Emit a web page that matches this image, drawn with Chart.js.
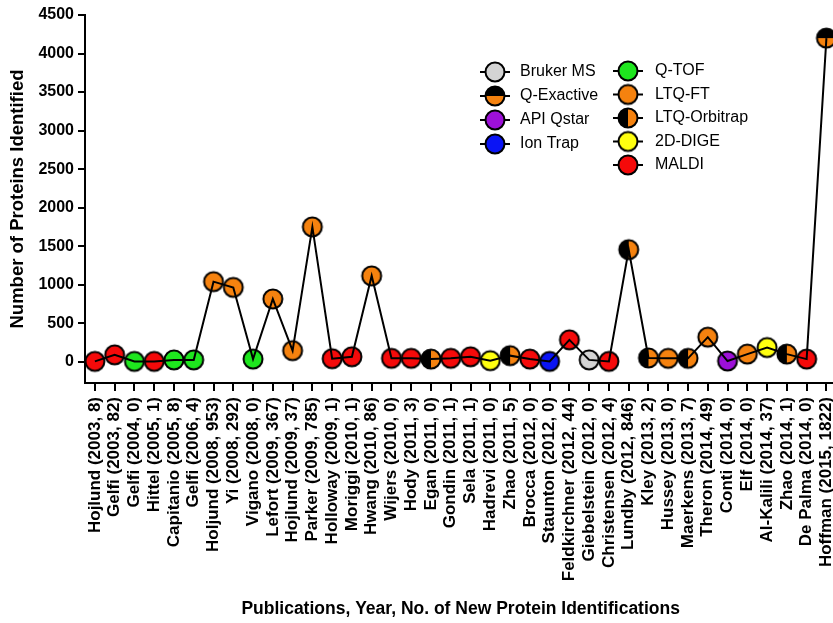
<!DOCTYPE html>
<html>
<head>
<meta charset="utf-8">
<script src="https://cdn.jsdelivr.net/npm/chart.js@4.4.1/dist/chart.umd.min.js"></script>
<style>
html, body { margin:0; padding:0; background:#fff; overflow:hidden; }
#wrap { width:833px; height:623px; overflow:hidden; }
#wrap canvas { display:block; }
</style>
</head>
<body>
<div id="wrap"><canvas id="chartProteins" width="853" height="623"></canvas></div>
<script>
// publications on the x axis
const publications = [
    'Hojlund (2003, 8)', 'Gelfi (2003, 82)', 'Gelfi (2004, 0)', 'Hittel (2005, 1)',
    'Capitanio (2005, 8)', 'Gelfi (2006, 4)', 'Holjund (2008, 953)', 'Yi (2008, 292)',
    'Vigano (2008, 0)', 'Lefort (2009, 367)', 'Hojlund (2009, 37)', 'Parker (2009, 785)',
    'Holloway (2009, 1)', 'Moriggi (2010, 1)', 'Hwang (2010, 86)', 'Wijers (2010, 0)',
    'Hody (2011, 3)', 'Egan (2011, 0)', 'Gondin (2011, 1)', 'Sela (2011, 1)',
    'Hadrevi (2011, 0)', 'Zhao (2011, 5)', 'Brocca (2012, 0)', 'Staunton (2012, 0)',
    'Feldkirchner (2012, 44)', 'Giebelstein (2012, 0)', 'Christensen (2012, 4)', 'Lundby (2012, 846)',
    'Kley (2013, 2)', 'Hussey (2013, 0)', 'Maerkens (2013, 7)', 'Theron (2014, 49)',
    'Conti (2014, 0)', 'Elf (2014, 0)', 'Al-Kalili (2014, 37)', 'Zhao (2014, 1)',
    'De Palma (2014, 0)', 'Hoffman (2015, 1822)'
];

// number of proteins identified
const proteinCounts = [
    5, 90, 5, 5, 25, 25, 1040, 965,
    35, 815, 145, 1750, 40, 65, 1115, 45,
    45, 35, 45, 65, 15, 80, 35, 5,
    285, 25, 5, 1455, 50, 45, 45, 320,
    10, 100, 185, 100, 35, 4200
];

// instrument used for each publication
const instruments = [
    'MALDI', 'MALDI', 'Q-TOF', 'MALDI', 'Q-TOF', 'Q-TOF', 'LTQ-FT', 'LTQ-FT',
    'Q-TOF', 'LTQ-FT', 'LTQ-FT', 'LTQ-FT', 'MALDI', 'MALDI', 'LTQ-FT', 'MALDI',
    'MALDI', 'LTQ-Orbitrap', 'MALDI', 'MALDI', '2D-DIGE', 'LTQ-Orbitrap', 'MALDI', 'Ion Trap',
    'MALDI', 'Bruker MS', 'MALDI', 'LTQ-Orbitrap', 'LTQ-Orbitrap', 'LTQ-FT', 'LTQ-Orbitrap', 'LTQ-FT',
    'API Qstar', 'LTQ-FT', '2D-DIGE', 'LTQ-Orbitrap', 'MALDI', 'Q-Exactive'
];

const yTicks = [0, 500, 1000, 1500, 2000, 2500, 3000, 3500, 4000, 4500];

const legendCol1 = ['Bruker MS', 'Q-Exactive', 'API Qstar', 'Ion Trap'];
const legendCol2 = ['Q-TOF', 'LTQ-FT', 'LTQ-Orbitrap', '2D-DIGE', 'MALDI'];

const ORANGE = '#f5820f';
const instrumentColors = {
    'Bruker MS': '#d4d4d4',
    'API Qstar': '#9d10d8',
    'Ion Trap': '#0a14f5',
    'Q-TOF': '#1ee61e',
    'LTQ-FT': ORANGE,
    '2D-DIGE': '#ffff10',
    'MALDI': '#f50a0a'
};

const FONT = '"Liberation Sans", Arial, Helvetica, sans-serif';
Chart.defaults.font.family = FONT;
Chart.defaults.color = '#000';

function makeMarker(name){
    const r = 9.5, size = 26, c = size / 2;
    const cv = document.createElement('canvas');
    cv.width = size; cv.height = size;
    const ctx = cv.getContext('2d');
    function part(a0, a1, col){
        ctx.beginPath();
        ctx.moveTo(c, c);
        ctx.arc(c, c, r, a0, a1);
        ctx.closePath();
        ctx.fillStyle = col;
        ctx.fill();
    }
    if(name === 'Q-Exactive'){
        part(Math.PI, 2 * Math.PI, '#000');
        part(0, Math.PI, ORANGE);
    } else if(name === 'LTQ-Orbitrap'){
        part(Math.PI / 2, 3 * Math.PI / 2, '#000');
        part(-Math.PI / 2, Math.PI / 2, ORANGE);
    } else {
        part(0, 2 * Math.PI, instrumentColors[name]);
    }
    ctx.beginPath();
    ctx.arc(c, c, r, 0, 2 * Math.PI);
    ctx.lineWidth = 2;
    ctx.strokeStyle = '#000';
    ctx.stroke();
    return cv;
}

const markers = {};
legendCol1.concat(legendCol2).forEach(n => { markers[n] = makeMarker(n); });

// two column legend drawn inside the plot
const instrumentLegend = {
    id: 'instrumentLegend',
    afterDraw(chart){
        const ctx = chart.ctx;
        ctx.save();
        ctx.font = '16px ' + FONT;
        ctx.textBaseline = 'middle';
        ctx.fillStyle = '#000';
        function col(items, mx, tx, y0, step){
            items.forEach((name, i) => {
                const y = y0 + i * step;
                ctx.beginPath();
                ctx.moveTo(mx - 15, y);
                ctx.lineTo(mx + 15, y);
                ctx.lineWidth = 2;
                ctx.strokeStyle = '#000';
                ctx.stroke();
                const m = markers[name];
                ctx.drawImage(m, mx - m.width / 2, y - m.height / 2);
                ctx.fillText(name, tx, y);
            });
        }
        col(legendCol1, 495, 520, 72, 24);
        col(legendCol2, 628, 655, 71, 23.5);
        ctx.restore();
    }
};

const ctx = document.getElementById('chartProteins').getContext('2d');

new Chart(ctx, {
    type: 'line',
    data: {
        labels: publications,
        datasets: [
            {
                label: 'Instruments',
                data: proteinCounts,
                showLine: false,
                pointStyle: c => markers[instruments[c.dataIndex]],
                pointRadius: 10,
                order: 1
            },
            {
                label: 'Proteins',
                data: proteinCounts,
                borderColor: '#000',
                borderWidth: 2,
                pointRadius: 0,
                tension: 0,
                order: 0
            }
        ]
    },
    options: {
        responsive: false,
        animation: false,
        layout: { padding: { top: 15, right: 14, left: 0, bottom: 0 } },
        plugins: {
            legend: { display: false },
            tooltip: { enabled: false }
        },
        scales: {
            x: {
                offset: true,
                grid: { drawOnChartArea: false, drawTicks: true, tickLength: 8, color: '#000', lineWidth: 2, offset: false },
                border: { display: true, color: '#000', width: 2 },
                ticks: {
                    autoSkip: false, maxRotation: 90, minRotation: 90, padding: 6,
                    color: '#000', font: { size: 17, weight: 'bold' }
                },
                title: {
                    display: true,
                    text: 'Publications, Year, No. of New Protein Identifications',
                    color: '#000',
                    font: { size: 17.5, weight: 'bold' },
                    padding: { top: 0, bottom: 3 }
                },
                afterFit: s => { s.height = 240; }
            },
            y: {
                min: -275,
                max: 4500,
                afterBuildTicks: s => { s.ticks = yTicks.map(v => ({ value: v })); },
                grid: { drawOnChartArea: false, drawTicks: true, tickLength: 7, color: '#000', lineWidth: 2 },
                border: { display: true, color: '#000', width: 2 },
                ticks: {
                    padding: 4, color: '#000', font: { size: 16, weight: 'bold' },
                    callback: v => String(v)
                },
                title: {
                    display: true,
                    text: 'Number of Proteins Identified',
                    color: '#000',
                    font: { size: 18.5, weight: 'bold' },
                    padding: { top: 7, bottom: 0 }
                },
                afterFit: s => { s.width = 85; }
            }
        }
    },
    plugins: [instrumentLegend]
});
</script>
</body>
</html>
